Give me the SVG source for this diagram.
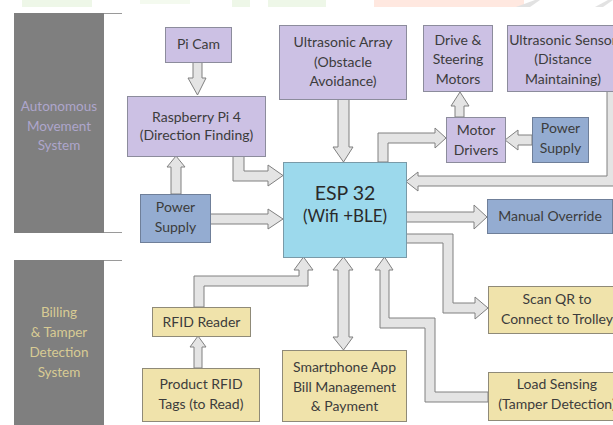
<svg xmlns="http://www.w3.org/2000/svg" width="613" height="425" viewBox="0 0 613 425">
<style>
text{font-family:Lato,"Open Sans","Liberation Sans",sans-serif;font-size:14px;fill:#3c3c3c;text-anchor:middle}
.purple{fill:#ccc1e4;stroke:#8c8c9c;stroke-width:1}
.blue{fill:#94acd1;stroke:#6f7f99;stroke-width:1}
.tan{fill:#f0e3ab;stroke:#8f8a78;stroke-width:1}
.esp{fill:#9cd9ec;stroke:#7a9aa8;stroke-width:1}
.arr{fill:#e4e4e4;stroke:#808080;stroke-width:1;stroke-linejoin:miter}
.panel{fill:#7f7f7f}
.pline{stroke:#9a9a9a;stroke-width:1}
.ptxt1{fill:#aea6cc;font-size:13.5px}
.ptxt2{fill:#d8cb94;font-size:13.5px}
</style>
<rect width="613" height="425" fill="#ffffff"/>
<g id="watermark" opacity="0.6">
<rect x="22" y="0" width="70" height="7" fill="#e3f3d9"/>
<rect x="140" y="0" width="50" height="4" fill="#eef8e6"/>
<rect x="232" y="0" width="18" height="7" fill="#e3f3d9"/>
<rect x="268" y="0" width="58" height="7" fill="#e3f3d9"/>
<rect x="374" y="0" width="150" height="7" fill="#ffd9cc"/>
<path d="M516 7 L535 0 L540 0 L530 7 Z" fill="#d0d0d0"/>
<path d="M595 7 L608 0 L613 0 L603 7 Z" fill="#d0d0d0"/>
</g>
<g id="panel-autonomous">
<rect class="panel" x="14" y="13" width="90" height="220"/>
<line class="pline" x1="104" y1="13.5" x2="122" y2="13.5"/>
<line class="pline" x1="104" y1="232.5" x2="122" y2="232.5"/>
<text class="ptxt1" x="59" y="111">Autonomous</text>
<text class="ptxt1" x="59" y="131">Movement</text>
<text class="ptxt1" x="59" y="150">System</text>
</g>
<g id="panel-billing">
<rect class="panel" x="14" y="260" width="90" height="165"/>
<line class="pline" x1="104" y1="260.5" x2="122" y2="260.5"/>
<text class="ptxt2" x="59" y="317">Billing</text>
<text class="ptxt2" x="59" y="337">&amp; Tamper</text>
<text class="ptxt2" x="59" y="357">Detection</text>
<text class="ptxt2" x="59" y="377">System</text>
</g>
<g id="connectors">
<path class="arr" d="M193 62 L202 62 L202 78 L206 78 L197.5 95 L188 78 L193 78 Z"/>
<path class="arr" d="M233 156 L244 156 L244 171 L268 171 L268 165 L283 175.5 L268 186 L268 181 L233 181 Z"/>
<path class="arr" d="M171 194 L171 167 L167 167 L176 156 L185 167 L181 167 L181 194 Z"/>
<path class="arr" d="M210 214 L268 214 L268 209 L283 219 L268 229 L268 224 L210 224 Z"/>
<path class="arr" d="M338 99 L349 99 L349 147 L353 147 L343.5 162 L333 147 L338 147 Z"/>
<path class="arr" d="M378 162 L378 133 L435 133 L435 128 L446 138 L435 148 L435 143 L388 143 L388 162 Z"/>
<path class="arr" d="M455 117 L455 106 L451 106 L460 92 L469 106 L464 106 L464 117 Z"/>
<path class="arr" d="M532 135 L518 135 L518 130 L505 140 L518 150 L518 145 L532 145 Z"/>
<path class="arr" d="M617 91 L617 186 L418 186 L418 191 L406 181.5 L418 172 L418 176 L607 176 L607 91 Z"/>
<path class="arr" d="M406 212 L474 212 L474 205 L487 217 L474 229 L474 222 L406 222 Z"/>
<path class="arr" d="M406 234 L453 234 L453 303 L475 303 L475 297 L488 308 L475 319 L475 313 L443 313 L443 243 L406 243 Z"/>
<path class="arr" d="M488 392 L435 392 L435 318 L389 318 L389 270 L393 270 L384.5 257 L375 270 L380 270 L380 328 L425 328 L425 402 L488 402 Z"/>
<path class="arr" d="M343.5 257 L353 270 L349 270 L349 337 L353 337 L343.5 350 L333 337 L338 337 L338 270 L333 270 Z"/>
<path class="arr" d="M194 307 L194 276 L299 276 L299 270 L294 270 L303.5 257 L313 270 L308 270 L308 286 L204 286 L204 307 Z"/>
<path class="arr" d="M194 368 L194 347 L190 347 L198 336 L206 347 L202 347 L202 368 Z"/>
</g>
<g id="pi-cam">
<rect class="purple" x="165.5" y="27.5" width="66" height="35"/>
<text x="198.5" y="49">Pi Cam</text>
</g>
<g id="raspberry-pi">
<rect class="purple" x="127.5" y="96.5" width="138" height="60"/>
<text x="196.5" y="122">Raspberry Pi 4</text>
<text x="196.5" y="140">(Direction Finding)</text>
</g>
<g id="power-supply-left">
<rect class="blue" x="140.5" y="194.5" width="70" height="48"/>
<text x="175.5" y="212">Power</text>
<text x="175.5" y="232">Supply</text>
</g>
<g id="ultrasonic-array">
<rect class="purple" x="279.5" y="25.5" width="127" height="74"/>
<text x="343" y="47">Ultrasonic Array</text>
<text x="343" y="67">(Obstacle</text>
<text x="343" y="86">Avoidance)</text>
</g>
<g id="drive-motors">
<rect class="purple" x="423.5" y="25.5" width="69" height="66"/>
<text x="458" y="45">Drive &amp;</text>
<text x="458" y="64">Steering</text>
<text x="458" y="84">Motors</text>
</g>
<g id="ultrasonic-sensor">
<rect class="purple" x="507.5" y="25.5" width="112" height="66"/>
<text x="563" y="45">Ultrasonic Sensor</text>
<text x="563" y="64">(Distance</text>
<text x="563" y="84">Maintaining)</text>
</g>
<g id="motor-drivers">
<rect class="purple" x="446.5" y="117.5" width="59" height="45"/>
<text x="476" y="135">Motor</text>
<text x="476" y="155">Drivers</text>
</g>
<g id="power-supply-right">
<rect class="blue" x="532.5" y="117.5" width="56" height="45"/>
<text x="560.5" y="133">Power</text>
<text x="560.5" y="153">Supply</text>
</g>
<g id="esp32">
<rect class="esp" x="283.5" y="162.5" width="123" height="95"/>
<text x="345" y="200" style="font-size:19.5px;fill:#2a2a2a">ESP 32</text>
<text x="345" y="222" style="font-size:17px;fill:#2a2a2a">(Wifi +BLE)</text>
</g>
<g id="manual-override">
<rect class="blue" x="487.5" y="199.5" width="125" height="34"/>
<text x="550" y="221">Manual Override</text>
</g>
<g id="scan-qr">
<rect class="tan" x="488.5" y="286.5" width="140" height="47"/>
<text x="557" y="304">Scan QR to</text>
<text x="557" y="324">Connect to Trolley</text>
</g>
<g id="load-sensing">
<rect class="tan" x="488.5" y="372.5" width="140" height="48"/>
<text x="557" y="389">Load Sensing</text>
<text x="557" y="409">(Tamper Detection)</text>
</g>
<g id="smartphone-app">
<rect class="tan" x="282.5" y="350.5" width="124" height="71"/>
<text x="344.5" y="372">Smartphone App</text>
<text x="344.5" y="392">Bill Management</text>
<text x="344.5" y="411">&amp; Payment</text>
</g>
<g id="rfid-reader">
<rect class="tan" x="152.5" y="307.5" width="98" height="29"/>
<text x="201.5" y="327">RFID Reader</text>
</g>
<g id="rfid-tags">
<rect class="tan" x="142.5" y="368.5" width="117" height="53"/>
<text x="201" y="389">Product RFID</text>
<text x="201" y="409">Tags (to Read)</text>
</g>
</svg>
